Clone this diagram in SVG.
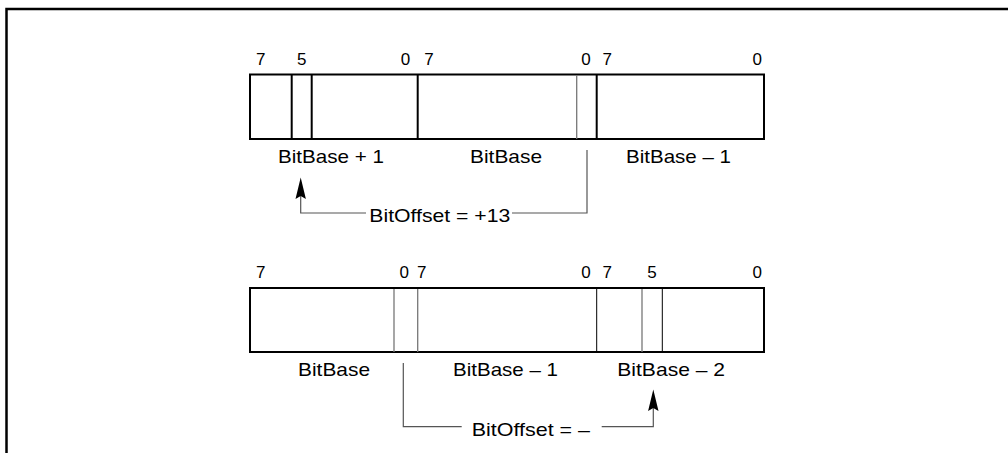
<svg xmlns="http://www.w3.org/2000/svg" width="1008" height="453" viewBox="0 0 1008 453">
<style>
.frame{fill:none;stroke:#000;stroke-width:2.5}
.box{fill:#fff;stroke:#000;stroke-width:2}
.thick{stroke:#000;stroke-width:2}
.thin{stroke:#000;stroke-width:1}
.gray{stroke:#777;stroke-width:1.3}
.conn{fill:none;stroke:#555;stroke-width:1.2}
.arrow{fill:#000}
.d{font-family:"Liberation Sans",Arial,sans-serif;font-size:17px;fill:#000;text-anchor:middle}
.l{font-family:"Liberation Sans",Arial,sans-serif;font-size:19px;fill:#000}
</style>
<rect width="1008" height="453" fill="#fff"/>
<path class="frame" d="M6.5,453 V9 H1008"/>
<g id="top-register">
<rect class="box" x="250" y="74.5" width="514" height="64.5"/>
<line class="thick" x1="291.7" y1="74.5" x2="291.7" y2="139"/>
<line class="thick" x1="311.7" y1="74.5" x2="311.7" y2="139"/>
<line class="thick" x1="417.7" y1="74.5" x2="417.7" y2="139"/>
<line class="gray" x1="576.7" y1="75" x2="576.7" y2="139"/>
<line class="thick" x1="596.7" y1="74.5" x2="596.7" y2="139"/>
<text class="d" x="260.7" y="65">7</text>
<text class="d" x="301.7" y="65">5</text>
<text class="d" x="405.5" y="65">0</text>
<text class="d" x="429" y="65">7</text>
<text class="d" x="586" y="65">0</text>
<text class="d" x="607.3" y="65">7</text>
<text class="d" x="757.3" y="65">0</text>
<text class="l" x="278" y="163" textLength="106" lengthAdjust="spacingAndGlyphs">BitBase + 1</text>
<text class="l" x="470" y="163" textLength="72" lengthAdjust="spacingAndGlyphs">BitBase</text>
<text class="l" x="626" y="163" textLength="105" lengthAdjust="spacingAndGlyphs">BitBase – 1</text>
</g>
<g id="bottom-register">
<rect class="box" x="250" y="288" width="514" height="64"/>
<line class="gray" x1="394" y1="289" x2="394" y2="352"/>
<line class="gray" x1="417.7" y1="289" x2="417.7" y2="352"/>
<line class="thin" x1="596.7" y1="289" x2="596.7" y2="352"/>
<line class="gray" x1="642" y1="289" x2="642" y2="352"/>
<line class="thin" x1="662.3" y1="289" x2="662.3" y2="352"/>
<text class="d" x="260.7" y="278">7</text>
<text class="d" x="404.3" y="278">0</text>
<text class="d" x="421.7" y="278">7</text>
<text class="d" x="586" y="278">0</text>
<text class="d" x="607.3" y="278">7</text>
<text class="d" x="652" y="278">5</text>
<text class="d" x="757.3" y="278">0</text>
<text class="l" x="298" y="376" textLength="72" lengthAdjust="spacingAndGlyphs">BitBase</text>
<text class="l" x="453" y="376" textLength="105" lengthAdjust="spacingAndGlyphs">BitBase – 1</text>
<text class="l" x="617.3" y="376" textLength="107.7" lengthAdjust="spacingAndGlyphs">BitBase – 2</text>
</g>
<g id="connectors">
<path class="conn" d="M587,150 V213 H512"/>
<path class="conn" d="M366,213 H300.7 V196"/>
<polygon class="arrow" points="300.7,177.5 295.5,199 300.7,196 305.9,199"/>
<text class="l" x="369.3" y="222" textLength="141" lengthAdjust="spacingAndGlyphs">BitOffset = +13</text>
<path class="conn" d="M403.3,363 V426.7 H461.7"/>
<path class="conn" d="M601.7,426.7 H653.3 V408"/>
<polygon class="arrow" points="653.3,389.5 648.1,411 653.3,408 658.5,411"/>
<text class="l" x="471.7" y="436" textLength="118.3" lengthAdjust="spacingAndGlyphs">BitOffset = –</text>
</g>
</svg>
